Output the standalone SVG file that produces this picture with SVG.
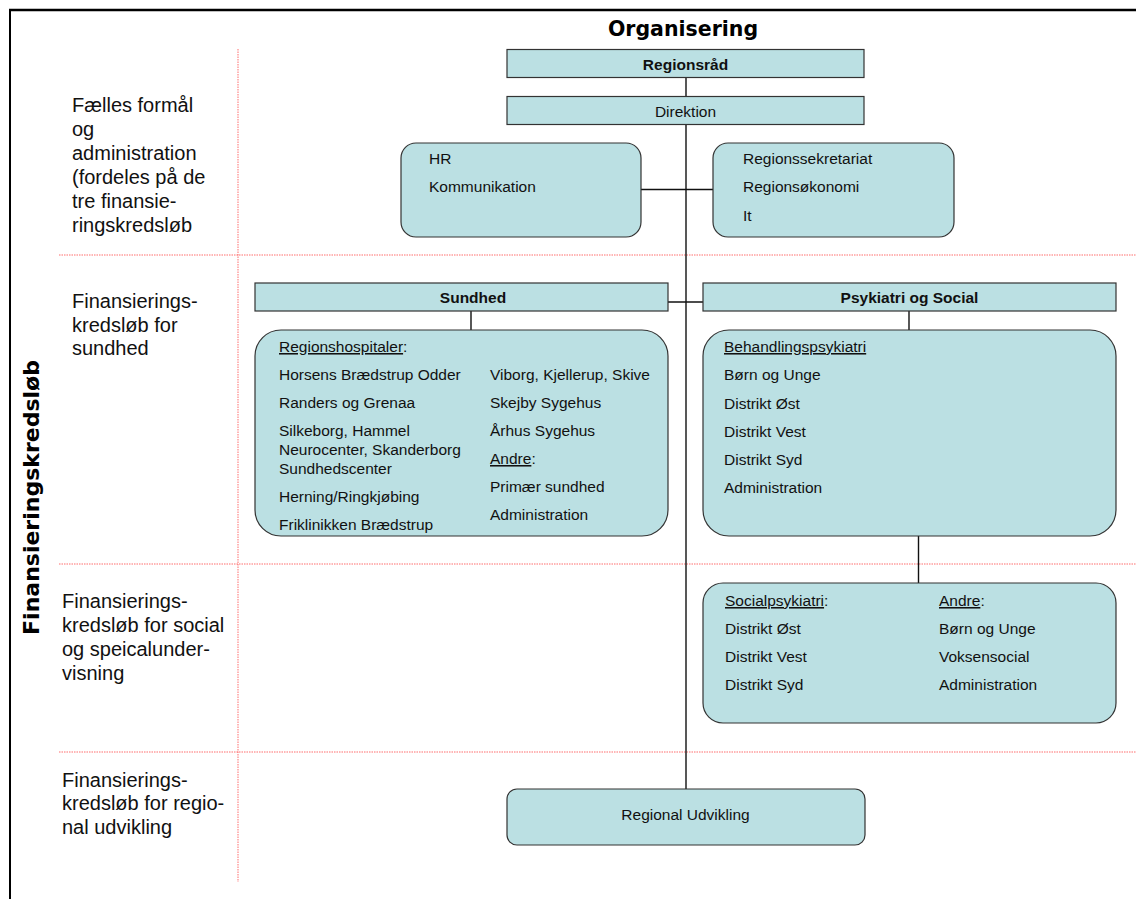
<svg xmlns="http://www.w3.org/2000/svg" width="1136" height="899" viewBox="0 0 1136 899">
<style>
.box{fill:#bbe0e3;stroke:#333;stroke-width:1.2}
.t{font-family:"Liberation Sans",Arial,sans-serif;font-size:15.5px;fill:#111}
.b{font-weight:bold}
.lbl{font-family:"Liberation Sans",Arial,sans-serif;font-size:20px;fill:#111}
.guide{stroke:#ff4a4a;stroke-width:1;stroke-dasharray:1.5,1;fill:none;opacity:0.8}
.con{stroke:#111;stroke-width:1.4;fill:none}
.u{text-decoration:underline}
</style>
<rect width="1136" height="899" fill="#fff"/>
<g id="frame">
<line x1="9" y1="10" x2="1136" y2="10" stroke="#000" stroke-width="2.5"/>
<line x1="10" y1="9" x2="10" y2="899" stroke="#000" stroke-width="2"/>
</g>
<g id="guides">
<line class="guide" x1="238" y1="49" x2="238" y2="882"/>
<line class="guide" x1="59" y1="255" x2="1136" y2="255"/>
<line class="guide" x1="59" y1="564" x2="1136" y2="564"/>
<line class="guide" x1="59" y1="752" x2="1136" y2="752"/>
</g>
<text id="title" x="683" y="36" text-anchor="middle" font-family="'DejaVu Sans',Verdana,sans-serif" font-weight="bold" font-size="20.5" fill="#000">Organisering</text>
<text id="side" transform="translate(39,497.5) rotate(-90)" text-anchor="middle" font-family="'DejaVu Sans',Verdana,sans-serif" font-weight="bold" font-size="22" fill="#000">Finansieringskredsløb</text>
<g id="labels" class="lbl">
<text x="72" y="112">Fælles formål</text>
<text x="72" y="136">og</text>
<text x="72" y="160">administration</text>
<text x="72" y="184">(fordeles på de</text>
<text x="72" y="208">tre finansie-</text>
<text x="72" y="232">ringskredsløb</text>
<text x="72" y="308">Finansierings-</text>
<text x="72" y="332">kredsløb for</text>
<text x="72" y="355">sundhed</text>
<text x="62" y="608">Finansierings-</text>
<text x="62" y="632">kredsløb for social</text>
<text x="62" y="656">og speicalunder-</text>
<text x="62" y="680">visning</text>
<text x="62" y="787">Finansierings-</text>
<text x="62" y="810">kredsløb for regio-</text>
<text x="62" y="834">nal udvikling</text>
</g>
<g id="connectors" class="con">
<line x1="686" y1="77" x2="686" y2="789"/>
<line x1="641" y1="189.5" x2="713" y2="189.5"/>
<line x1="668" y1="302" x2="703" y2="302"/>
<line x1="471" y1="311" x2="471" y2="330"/>
<line x1="909" y1="311" x2="909" y2="330"/>
<line x1="918.5" y1="536" x2="918.5" y2="583"/>
</g>
<g id="regionsraad">
<rect class="box" x="507" y="49.5" width="357" height="28"/>
<text class="t b" x="685.5" y="69.5" text-anchor="middle">Regionsråd</text>
</g>
<g id="direktion">
<rect class="box" x="507" y="96.5" width="357" height="28"/>
<text class="t" x="685.5" y="116.5" text-anchor="middle">Direktion</text>
</g>
<g id="hr">
<rect class="box" x="401" y="143" width="240" height="94" rx="15"/>
<text class="t" x="429" y="164">HR</text>
<text class="t" x="429" y="192">Kommunikation</text>
</g>
<g id="sekretariat">
<rect class="box" x="713" y="143" width="241" height="94" rx="15"/>
<text class="t" x="743" y="164">Regionssekretariat</text>
<text class="t" x="743" y="192">Regionsøkonomi</text>
<text class="t" x="743" y="220.5">It</text>
</g>
<g id="sundhed">
<rect class="box" x="255" y="283" width="413" height="28"/>
<text class="t b" x="473" y="303" text-anchor="middle">Sundhed</text>
</g>
<g id="psykiatri">
<rect class="box" x="703" y="283" width="413" height="28"/>
<text class="t b" x="909.5" y="303" text-anchor="middle">Psykiatri og Social</text>
</g>
<g id="hospitaler">
<rect class="box" x="255" y="330" width="413" height="206" rx="26"/>
<text class="t" x="279" y="352"><tspan class="u">Regionshospitaler</tspan>:</text>
<text class="t" x="279" y="380">Horsens Brædstrup Odder</text>
<text class="t" x="279" y="408">Randers og Grenaa</text>
<text class="t" x="279" y="436">Silkeborg, Hammel</text>
<text class="t" x="279" y="455">Neurocenter, Skanderborg</text>
<text class="t" x="279" y="474">Sundhedscenter</text>
<text class="t" x="279" y="502">Herning/Ringkjøbing</text>
<text class="t" x="279" y="530">Friklinikken Brædstrup</text>
<text class="t" x="490" y="380">Viborg, Kjellerup, Skive</text>
<text class="t" x="490" y="408">Skejby Sygehus</text>
<text class="t" x="490" y="436">Århus Sygehus</text>
<text class="t" x="490" y="464"><tspan class="u">Andre</tspan>:</text>
<text class="t" x="490" y="492">Primær sundhed</text>
<text class="t" x="490" y="520">Administration</text>
</g>
<g id="behandling">
<rect class="box" x="703" y="330" width="413" height="206" rx="26"/>
<text class="t u" x="724" y="352">Behandlingspsykiatri</text>
<text class="t" x="724" y="380">Børn og Unge</text>
<text class="t" x="724" y="408.5">Distrikt Øst</text>
<text class="t" x="724" y="437">Distrikt Vest</text>
<text class="t" x="724" y="465">Distrikt Syd</text>
<text class="t" x="724" y="493">Administration</text>
</g>
<g id="socialpsykiatri">
<rect class="box" x="703" y="583" width="413" height="140" rx="20"/>
<text class="t" x="725" y="606"><tspan class="u">Socialpsykiatri</tspan>:</text>
<text class="t" x="725" y="633.5">Distrikt Øst</text>
<text class="t" x="725" y="661.5">Distrikt Vest</text>
<text class="t" x="725" y="690">Distrikt Syd</text>
<text class="t" x="939" y="606"><tspan class="u">Andre</tspan>:</text>
<text class="t" x="939" y="633.5">Børn og Unge</text>
<text class="t" x="939" y="661.5">Voksensocial</text>
<text class="t" x="939" y="690">Administration</text>
</g>
<g id="regional">
<rect class="box" x="507" y="789" width="358" height="56" rx="10"/>
<text class="t" x="685.5" y="820" text-anchor="middle">Regional Udvikling</text>
</g>
</svg>
